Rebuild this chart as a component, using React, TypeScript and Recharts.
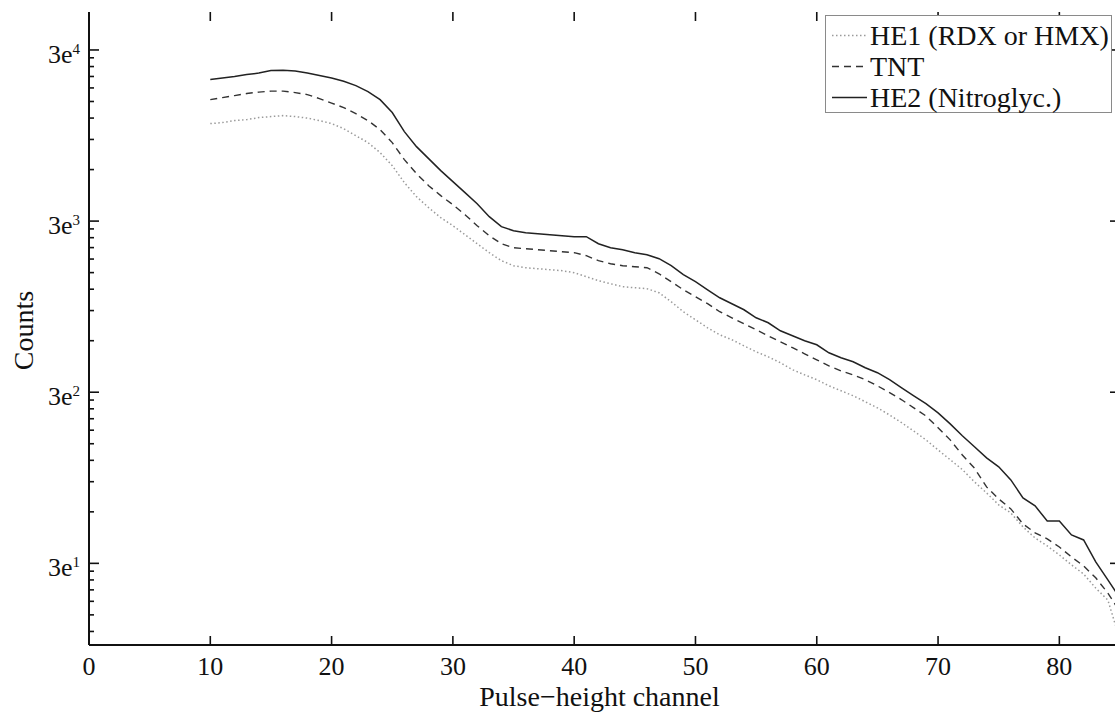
import { ComposedChart, Line, Scatter, XAxis, YAxis, Legend } from 'recharts';

const FONT = '"Liberation Serif", "Times New Roman", Times, serif';
const INK = '#111';

// pulse-height channels 10..85
const channels = [
  10, 11, 12, 13, 14, 15, 16, 17, 18, 19, 20, 21, 22, 23, 24, 25, 26, 27, 28, 29,
  30, 31, 32, 33, 34, 35, 36, 37, 38, 39, 40, 41, 42, 43, 44, 45, 46, 47, 48, 49,
  50, 51, 52, 53, 54, 55, 56, 57, 58, 59, 60, 61, 62, 63, 64, 65, 66, 67, 68, 69,
  70, 71, 72, 73, 74, 75, 76, 77, 78, 79, 80, 81, 82, 83, 84, 85,
];

const he1 = [
  11140, 11290, 11600, 11750, 12080, 12240, 12400, 12240, 11990, 11600,
  11140, 10410, 9475, 8627, 7538, 6328, 5032, 4169, 3594, 3142,
  2820, 2499, 2213, 1961, 1761, 1646, 1602, 1580, 1560, 1539,
  1498, 1419, 1345, 1292, 1241, 1224, 1208, 1144, 1013, 886,
  795, 714, 650, 608, 560, 517, 483, 446, 406, 379,
  355, 327, 306, 286, 264, 243, 221, 199, 178, 158,
  138, 121, 106, 89.8, 77.4, 65.9, 59.1, 49.0, 42.2, 37.9,
  33.6, 29.4, 26.0, 21.5, 18.3, 10.7,
];

const tnt = [
  15380, 15800, 16240, 16690, 17020, 17250, 17250, 16910, 16460, 15600,
  14680, 13820, 12740, 11600, 10270, 8627, 6860, 5680, 4832, 4224,
  3742, 3270, 2820, 2465, 2213, 2097, 2069, 2041, 2014, 1987,
  1961, 1884, 1761, 1691, 1646, 1624, 1602, 1477, 1327, 1191,
  1084, 987, 886, 817, 754, 695, 641, 592, 546, 503,
  464, 428, 400, 379, 355, 327, 298, 271, 243, 218,
  186, 158, 129, 108, 83.9, 71.4, 62.4, 51.0, 45.2, 41.7,
  37.4, 32.7, 29.0, 24.7, 20.1, 15.6,
];

const he2 = [
  20140, 20550, 20970, 21540, 21980, 22730, 22820, 22570, 21980, 21250,
  20550, 19690, 18580, 17130, 15380, 12920, 10000, 8170, 6950, 5914,
  5100, 4399, 3793, 3185, 2783, 2637, 2567, 2532, 2499, 2465,
  2432, 2432, 2213, 2097, 2041, 1961, 1909, 1809, 1646, 1458,
  1327, 1191, 1069, 987, 910, 817, 764, 686, 641, 600,
  568, 510, 477, 452, 417, 390, 355, 318, 286, 257,
  227, 196, 167, 144, 124, 110, 92.2, 72.4, 65.0, 53.1,
  53.1, 44.0, 41.1, 30.6, 24.0, 18.8,
];

const seriesNames = ['HE1 (RDX or HMX)', 'TNT', 'HE2 (Nitroglyc.)'];

const xDomain: [number, number] = [0, 85];
const yDomain: [number, number] = [10, 50000];
const xTicks = [0, 10, 20, 30, 40, 50, 60, 70, 80];
const yMajorTicks = [30, 300, 3000, 30000];
const yMajorExponents = ['1', '2', '3', '4'];
const yMinorTicks = [
  12, 15, 18, 21, 24, 27,
  60, 90, 120, 150, 180, 210, 240, 270,
  600, 900, 1200, 1500, 1800, 2100, 2400, 2700,
  6000, 9000, 12000, 15000, 18000, 21000, 24000, 27000,
];

const data = channels.map((ch, i) => ({ ch, he1: he1[i], tnt: tnt[i], he2: he2[i] }));

// tick marks + labels on the frame, placed through the chart's own scales
const bottomMarks = xTicks.map((ch) => ({ ch, v: yDomain[0], label: String(ch) }));
const topMarks = xTicks.map((ch) => ({ ch, v: yDomain[1] }));
const leftMajorMarks = yMajorTicks.map((v, i) => ({ ch: xDomain[0], v, exp: yMajorExponents[i] }));
const leftMinorMarks = yMinorTicks.map((v) => ({ ch: xDomain[0], v }));
const rightMajorMarks = yMajorTicks.map((v) => ({ ch: xDomain[1], v }));
const rightMinorMarks = yMinorTicks.map((v) => ({ ch: xDomain[1], v }));

const lineStyles = [
  { key: 'he1', stroke: '#9a9a9a', dash: '1.5 2.5', width: 1.5 },
  { key: 'tnt', stroke: '#333', dash: '7 5', width: 1.4 },
  { key: 'he2', stroke: '#222', dash: undefined as string | undefined, width: 1.5 },
];

function mark(dx: number, dy: number) {
  return (p: any) => {
    const cx = Number(p.cx);
    const cy = Number(p.cy);
    if (!Number.isFinite(cx) || !Number.isFinite(cy)) return <g />;
    return <path d={`M${cx},${cy}l${dx},${dy}`} stroke={INK} strokeWidth={1.6} fill="none" />;
  };
}

function BottomMark(p: any) {
  const cx = Number(p.cx);
  const cy = Number(p.cy);
  if (!Number.isFinite(cx) || !Number.isFinite(cy)) return <g />;
  const label = p.payload?.label ?? '';
  return (
    <g>
      <path d={`M${cx},${cy}v-9`} stroke={INK} strokeWidth={1.6} fill="none" />
      <text x={cx} y={cy + 30} textAnchor="middle" fontSize={26} fontFamily={FONT} fill={INK}>
        {label}
      </text>
    </g>
  );
}

function LeftMajorMark(p: any) {
  const cx = Number(p.cx);
  const cy = Number(p.cy);
  if (!Number.isFinite(cx) || !Number.isFinite(cy)) return <g />;
  const exp = p.payload?.exp ?? '';
  return (
    <g>
      <path d={`M${cx},${cy}h10`} stroke={INK} strokeWidth={1.6} fill="none" />
      <text x={cx - 9} y={cy + 13} textAnchor="end" fontSize={26} fontFamily={FONT} fill={INK}>
        <tspan>3e</tspan>
        <tspan dy={-9} fontSize={15}>{exp}</tspan>
      </text>
    </g>
  );
}

function LegendBox() {
  return (
    <div
      style={{
        width: 287,
        height: 98,
        boxSizing: 'border-box',
        border: '1px solid #8a8a8a',
        background: '#fff',
        paddingTop: 4,
        fontFamily: FONT,
        fontSize: 28,
        color: INK,
      }}
    >
      {lineStyles.map((s, i) => (
        <div key={s.key} style={{ display: 'flex', alignItems: 'center', height: 31, lineHeight: '31px', whiteSpace: 'nowrap' }}>
          <svg width={44} height={31} style={{ flex: 'none', display: 'block' }}>
            <line x1={6} x2={41} y1={15.5} y2={15.5} stroke={s.stroke} strokeWidth={s.width} strokeDasharray={s.dash} />
          </svg>
          <span>{seriesNames[i]}</span>
        </div>
      ))}
    </div>
  );
}

const axisLine = { stroke: INK, strokeWidth: 2 };

export default function App() {
  return (
    <div style={{ position: 'absolute', left: 0, top: 0, width: 1115, height: 713, overflow: 'hidden', background: '#fff' }}>
      <ComposedChart width={1125} height={713} data={data} margin={{ top: 12, right: 5, left: 0, bottom: 0 }}>
        {/* axes only carry the scales, frame lines and titles; ticks are drawn by the Scatter marks below */}
        <XAxis
          dataKey="ch"
          type="number"
          domain={xDomain}
          ticks={[xDomain[1]]}
          tick={false}
          tickLine={false}
          axisLine={axisLine}
          height={68}
          label={(p: any) => {
            const vb = p.viewBox || {};
            return (
              <text x={vb.x + vb.width / 2 - 5} y={706} textAnchor="middle" fontSize={28} fontFamily={FONT} fill={INK}>
                Pulse−height channel
              </text>
            );
          }}
        />
        <XAxis xAxisId="top" orientation="top" type="number" domain={xDomain} ticks={[xDomain[1]]} tick={false} tickLine={false} axisLine={axisLine} height={0} />
        <YAxis
          scale="log"
          type="number"
          domain={yDomain}
          ticks={[yDomain[1]]}
          tick={false}
          tickLine={false}
          axisLine={axisLine}
          width={89}
          label={(p: any) => {
            const vb = p.viewBox || {};
            const cy = (vb.y ?? 12) + (vb.height ?? 633) / 2 + 2;
            return (
              <text x={33} y={cy} transform={`rotate(-90 33 ${cy})`} textAnchor="middle" fontSize={28} fontFamily={FONT} fill={INK}>
                Counts
              </text>
            );
          }}
        />
        <YAxis yAxisId="right" orientation="right" scale="log" type="number" domain={yDomain} ticks={[yDomain[1]]} tick={false} tickLine={false} axisLine={axisLine} width={0} />
        <Legend
          content={LegendBox}
          layout="vertical"
          align="center"
          verticalAlign="middle"
          wrapperStyle={{ left: 825, top: 15, width: 287, margin: 0 }}
        />
        {lineStyles.map((s, i) => (
          <Line
            key={s.key}
            type="linear"
            dataKey={s.key}
            name={seriesNames[i]}
            stroke={s.stroke}
            strokeWidth={s.width}
            strokeDasharray={s.dash}
            dot={false}
            activeDot={false}
            isAnimationActive={false}
          />
        ))}
        <Scatter data={bottomMarks} dataKey="v" shape={BottomMark} legendType="none" isAnimationActive={false} />
        <Scatter data={topMarks} dataKey="v" shape={mark(0, 9)} legendType="none" isAnimationActive={false} />
        <Scatter data={leftMajorMarks} dataKey="v" shape={LeftMajorMark} legendType="none" isAnimationActive={false} />
        <Scatter data={leftMinorMarks} dataKey="v" shape={mark(5, 0)} legendType="none" isAnimationActive={false} />
        <Scatter data={rightMajorMarks} dataKey="v" shape={mark(-10, 0)} legendType="none" isAnimationActive={false} />
        <Scatter data={rightMinorMarks} dataKey="v" shape={mark(-5, 0)} legendType="none" isAnimationActive={false} />
      </ComposedChart>
    </div>
  );
}
